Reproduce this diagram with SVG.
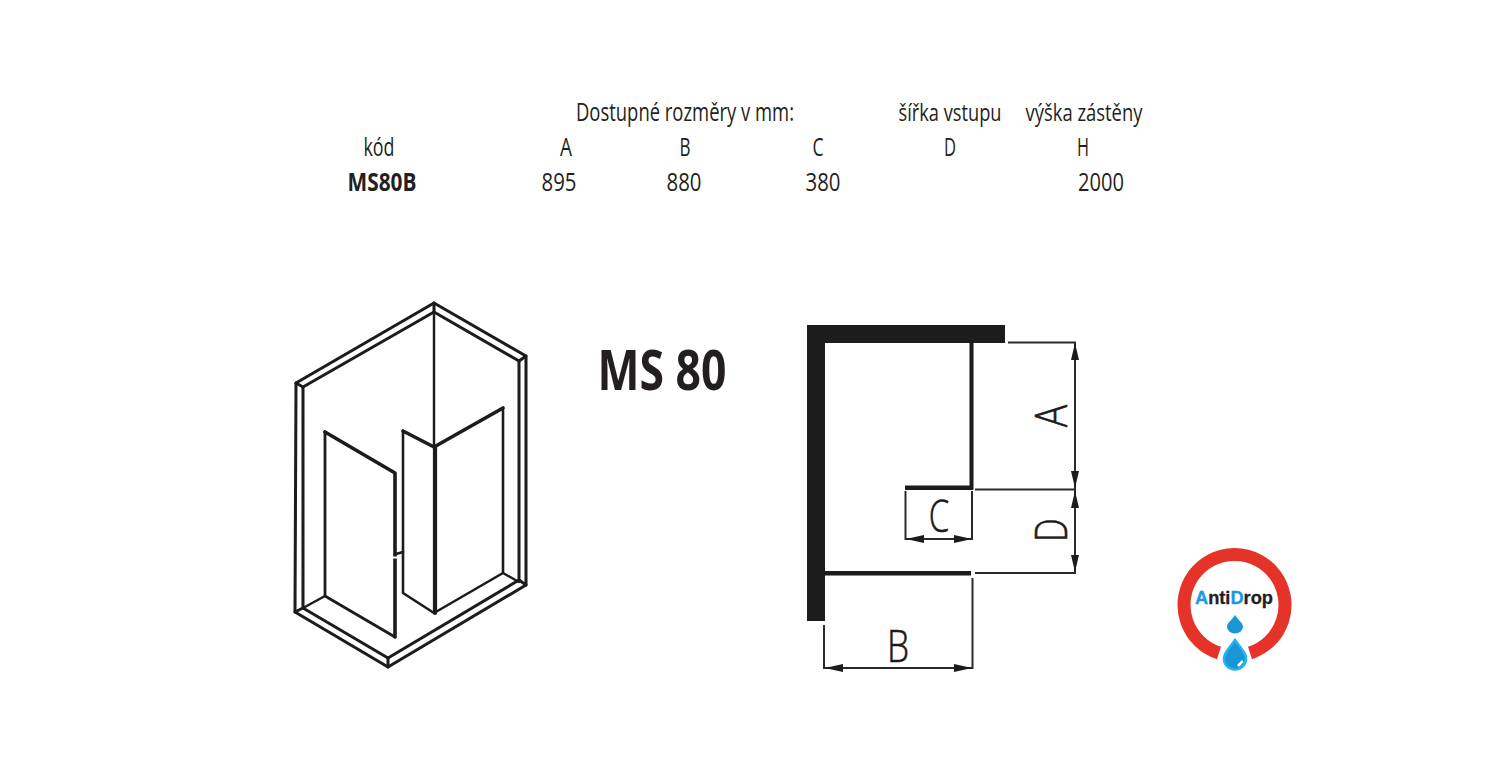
<svg xmlns="http://www.w3.org/2000/svg" width="1500" height="776" viewBox="0 0 1500 776">
<defs>
<style>
.t{font-family:"Open Sans","Liberation Sans",sans-serif;font-size:25.5px;fill:#231f20;text-anchor:middle}
.b{font-weight:700}
.l{fill:none;stroke:#1c1a1b;stroke-linejoin:round;stroke-linecap:round}
.d{font-family:"Open Sans","Liberation Sans",sans-serif;font-weight:300;font-size:44px;fill:#1c1a1b;stroke:#1c1a1b;stroke-width:.6;text-anchor:middle}
.dim{fill:none;stroke:#2b292a;stroke-width:2}
.ah{fill:#1c1a1b}
</style>
<filter id="soft" x="-5%" y="-5%" width="110%" height="110%"><feGaussianBlur stdDeviation="0.55"/></filter>
</defs>
<rect width="1500" height="776" fill="#fff"/>
<g id="table">
<text class="t" x="685" y="121" textLength="218" lengthAdjust="spacingAndGlyphs">Dostupné rozměry v mm:</text>
<text class="t" x="950" y="121" textLength="103" lengthAdjust="spacingAndGlyphs" style="font-size:24px">šířka vstupu</text>
<text class="t" x="1084" y="121" textLength="117" lengthAdjust="spacingAndGlyphs" style="font-size:24px">výška zástěny</text>
<text class="t" x="379" y="156" textLength="31" lengthAdjust="spacingAndGlyphs">kód</text>
<text class="t" x="566" y="156" textLength="12" lengthAdjust="spacingAndGlyphs">A</text>
<text class="t" x="685" y="156" textLength="11" lengthAdjust="spacingAndGlyphs">B</text>
<text class="t" x="818" y="156" textLength="11" lengthAdjust="spacingAndGlyphs">C</text>
<text class="t" x="950" y="156" textLength="12" lengthAdjust="spacingAndGlyphs">D</text>
<text class="t" x="1083" y="156" textLength="12" lengthAdjust="spacingAndGlyphs">H</text>
<text class="t b" x="382" y="191" textLength="69" lengthAdjust="spacingAndGlyphs">MS80B</text>
<text class="t" x="559" y="191" textLength="35" lengthAdjust="spacingAndGlyphs">895</text>
<text class="t" x="684" y="191" textLength="35" lengthAdjust="spacingAndGlyphs">880</text>
<text class="t" x="823" y="191" textLength="35" lengthAdjust="spacingAndGlyphs">380</text>
<text class="t" x="1101" y="191" textLength="46" lengthAdjust="spacingAndGlyphs">2000</text>
</g>
<g id="isometric-view" filter="url(#soft)">
<path class="l" stroke-width="3" d="M296 383L434 303L526 356V585L388 667L295 612Z"/>
<path class="l" stroke-width="3" d="M303 387L434 312L519 361V580L388 658L303 608Z"/>
<path class="l" stroke-width="3" d="M296 383L303 387M434 303V312M526 356L519 361M526 585L519 580M388 667V658M295 612L303 608"/>
<path class="l" stroke-width="2.4" d="M434 312V447"/>
<path class="l" stroke-width="2.8" d="M325 432V596L395 637"/>
<path class="l" stroke-width="3.6" d="M325 432L395 473V637"/>
<path class="l" stroke-width="2.6" d="M403 431V593L434 613L503 573V408"/>
<path class="l" stroke-width="3.6" d="M403 431L434 447L503 408"/>
<path class="l" stroke-width="4.2" d="M435 447V613"/>
<path class="l" stroke-width="2.4" d="M396 554L403 552M325 596L303 608M503 573L519 582"/>
<rect x="393" y="556.500" width="5" height="2" fill="#fff"/>
</g>
<g id="title">
<text x="662" y="390" font-family="'Open Sans','Liberation Sans',sans-serif" font-weight="700" font-size="56" fill="#231f20" text-anchor="middle" textLength="129" lengthAdjust="spacingAndGlyphs">MS 80</text>
</g>
<g id="plan-view">
<g filter="url(#soft)">
<path fill="#1c1a1b" d="M807 325H1005V343H825V621H807Z"/>
<rect x="969.500" y="343" width="4" height="147" fill="#1c1a1b"/>
<rect x="905" y="485.500" width="68" height="4.500" fill="#1c1a1b"/>
<rect x="825" y="571" width="146" height="4.500" fill="#1c1a1b"/>
</g>
<g id="connectors" filter="url(#soft)">
<path class="dim" d="M1008 342.500H1075V573H975M975 489.500H1075"/>
<path class="dim" d="M905.500 491V539H972V491"/>
<path class="dim" d="M824 625V668H972.500V578"/>
<path class="ah" d="M1075 343L1079 360H1071ZM1075 488L1079 471H1071ZM1075 491L1079 508H1071ZM1075 572L1079 555H1071Z"/>
<path class="ah" d="M906 539L924 535V543ZM972 539L954 535V543Z"/>
<path class="ah" d="M825 668L843 664V672ZM972 668L954 664V672Z"/>
</g>
<g id="plan-labels">
<text class="d" transform="translate(1067 416) rotate(-90) scale(.85 1)" x="0" y="0">A</text>
<text class="d" transform="translate(1067 530) rotate(-90) scale(.75 1)" x="0" y="0">D</text>
<text class="d" transform="translate(939 532) scale(.75 1)" x="0" y="0">C</text>
<text class="d" transform="translate(898 662) scale(.8 1)" x="0" y="0">B</text>
</g>
</g>
<g id="antidrop-logo">
<path fill="none" stroke="#e5332a" stroke-width="13" d="M1219 653A50.500 50.500 0 1 1 1250 653"/>
<path fill="#fff" stroke="#fff" stroke-width="3" d="M1235 636C1226 649 1221 653 1221 659A14 13 0 0 0 1249 659C1249 653 1244 649 1235 636Z"/>
<path fill="#1a96d6" stroke="#22b4f0" stroke-width="2.500" d="M1235 640C1228 650 1224 653 1224 659A11 10.500 0 0 0 1246 659C1246 653 1242 650 1235 640Z"/>
<path fill="#fff" d="M1237 665L1242 660L1243.500 662L1239 667Z"/>
<path fill="#1a96d6" d="M1235 615C1231 621 1227 623 1227 627A8 6.500 0 0 0 1243 627C1243 623 1239 621 1235 615Z"/>
<text x="1234" y="604" font-family="'Liberation Sans',Arial,sans-serif" font-weight="700" font-size="18" fill="#231f20" stroke="#231f20" stroke-width=".3" text-anchor="middle" textLength="78" lengthAdjust="spacingAndGlyphs"><tspan fill="#1798e8" stroke="#1798e8">A</tspan>nti<tspan fill="#1798e8" stroke="#1798e8">D</tspan>rop</text>
</g>
</svg>
